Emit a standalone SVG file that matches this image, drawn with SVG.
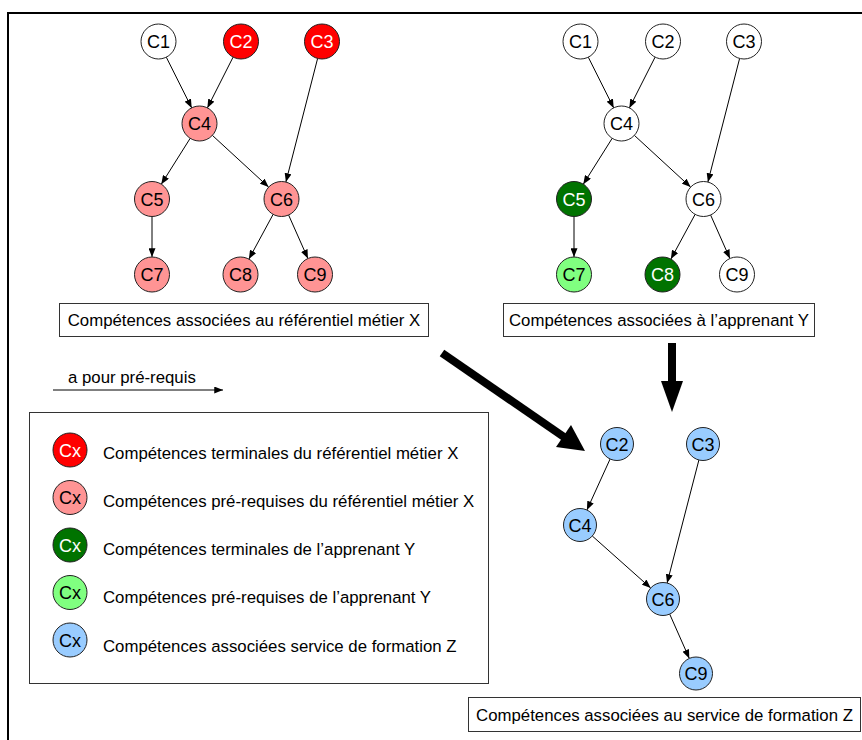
<svg xmlns="http://www.w3.org/2000/svg" width="862" height="740" viewBox="0 0 862 740">
<defs>
<style>
text{font-family:"Liberation Sans",Arial,sans-serif;fill:#000}
.n{font-size:18px;text-anchor:middle}
.w{fill:#fff}
.lbl{font-size:16.8px}
.c{stroke:#222;stroke-width:1}
.white{fill:#fff}
.red{fill:#ff0000}
.pink{fill:#ff9494}
.dg{fill:#007300}
.lg{fill:#80ff80}
.blue{fill:#99ccff}
.e{stroke:#000;stroke-width:1;fill:none;marker-end:url(#ah)}
.box{fill:#fff;stroke:#333;stroke-width:1}
.big{stroke:#000;stroke-width:8;fill:none}
</style>
<marker id="ah" viewBox="0 0 10 8" refX="10" refY="4" markerWidth="9" markerHeight="7" markerUnits="userSpaceOnUse" orient="auto">
<path d="M0,0 L10,4 L0,8 z" fill="#000"/>
</marker>
</defs>
<rect x="0" y="0" width="862" height="740" fill="#fff"/>
<rect id="frame" x="8" y="13" width="900" height="800" fill="none" stroke="#000" stroke-width="2"/>

<!-- Left graph -->
<g id="graphX">
<g id="connectorsX">
<line class="e" x1="166.3" y1="57.2" x2="191.7" y2="107.9"/>
<line class="e" x1="233.1" y1="57.1" x2="207.4" y2="107.9"/>
<line class="e" x1="317.6" y1="58.5" x2="285.9" y2="182.0"/>
<line class="e" x1="190.2" y1="138.3" x2="161.3" y2="184.2"/>
<line class="e" x1="212.4" y1="135.4" x2="268.6" y2="187.1"/>
<line class="e" x1="152" y1="216.5" x2="152" y2="257"/>
<line class="e" x1="273.1" y1="214.4" x2="248.9" y2="259.1"/>
<line class="e" x1="288.6" y1="215.0" x2="307.9" y2="258.5"/>
</g>
<g id="X-C1"><circle class="c white" cx="158.5" cy="41.5" r="17.5"/><text class="n" x="158.5" y="48">C1</text></g>
<g id="X-C2"><circle class="c red" cx="241" cy="41.5" r="17.5"/><text class="n w" x="241" y="48">C2</text></g>
<g id="X-C3"><circle class="c red" cx="322" cy="41.5" r="17.5"/><text class="n w" x="322" y="48">C3</text></g>
<g id="X-C4"><circle class="c pink" cx="199.5" cy="123.5" r="17.5"/><text class="n" x="199.5" y="130">C4</text></g>
<g id="X-C5"><circle class="c pink" cx="152" cy="199" r="17.5"/><text class="n" x="152" y="205.5">C5</text></g>
<g id="X-C6"><circle class="c pink" cx="281.5" cy="199" r="17.5"/><text class="n" x="281.5" y="205.5">C6</text></g>
<g id="X-C7"><circle class="c pink" cx="152" cy="274.5" r="17.5"/><text class="n" x="152" y="281">C7</text></g>
<g id="X-C8"><circle class="c pink" cx="240.5" cy="274.5" r="17.5"/><text class="n" x="240.5" y="281">C8</text></g>
<g id="X-C9"><circle class="c pink" cx="315" cy="274.5" r="17.5"/><text class="n" x="315" y="281">C9</text></g>
</g>

<!-- Right graph -->
<g id="graphY" transform="translate(422,0)">
<g id="connectorsY">
<line class="e" x1="166.3" y1="57.2" x2="191.7" y2="107.9"/>
<line class="e" x1="233.1" y1="57.1" x2="207.4" y2="107.9"/>
<line class="e" x1="317.6" y1="58.5" x2="285.9" y2="182.0"/>
<line class="e" x1="190.2" y1="138.3" x2="161.3" y2="184.2"/>
<line class="e" x1="212.4" y1="135.4" x2="268.6" y2="187.1"/>
<line class="e" x1="152" y1="216.5" x2="152" y2="257"/>
<line class="e" x1="273.1" y1="214.4" x2="248.9" y2="259.1"/>
<line class="e" x1="288.6" y1="215.0" x2="307.9" y2="258.5"/>
</g>
<g id="Y-C1"><circle class="c white" cx="158.5" cy="41.5" r="17.5"/><text class="n" x="158.5" y="48">C1</text></g>
<g id="Y-C2"><circle class="c white" cx="241" cy="41.5" r="17.5"/><text class="n" x="241" y="48">C2</text></g>
<g id="Y-C3"><circle class="c white" cx="322" cy="41.5" r="17.5"/><text class="n" x="322" y="48">C3</text></g>
<g id="Y-C4"><circle class="c white" cx="199.5" cy="123.5" r="17.5"/><text class="n" x="199.5" y="130">C4</text></g>
<g id="Y-C5"><circle class="c dg" cx="152" cy="199" r="17.5"/><text class="n w" x="152" y="205.5">C5</text></g>
<g id="Y-C6"><circle class="c white" cx="281.5" cy="199" r="17.5"/><text class="n" x="281.5" y="205.5">C6</text></g>
<g id="Y-C7"><circle class="c lg" cx="152" cy="274.5" r="17.5"/><text class="n" x="152" y="281">C7</text></g>
<g id="Y-C8"><circle class="c dg" cx="240.5" cy="274.5" r="17.5"/><text class="n w" x="240.5" y="281">C8</text></g>
<g id="Y-C9"><circle class="c white" cx="315" cy="274.5" r="17.5"/><text class="n" x="315" y="281">C9</text></g>
</g>

<!-- Bottom graph -->
<g id="graphZ">
<g id="connectorsZ">
<line class="e" x1="610.1" y1="459.0" x2="586.9" y2="510.0"/>
<line class="e" x1="698.9" y1="460.0" x2="667.1" y2="583.0"/>
<line class="e" x1="592.3" y1="536.0" x2="650.7" y2="588.0"/>
<line class="e" x1="669.7" y1="614.1" x2="689.3" y2="658.4"/>
</g>
<g id="Z-C2"><circle class="c blue" cx="617" cy="444" r="16.5"/><text class="n" x="617" y="450.5">C2</text></g>
<g id="Z-C3"><circle class="c blue" cx="703" cy="444" r="16.5"/><text class="n" x="703" y="450.5">C3</text></g>
<g id="Z-C4"><circle class="c blue" cx="580" cy="525" r="16.5"/><text class="n" x="580" y="531.5">C4</text></g>
<g id="Z-C6"><circle class="c blue" cx="663" cy="599" r="16.5"/><text class="n" x="663" y="605.5">C6</text></g>
<g id="Z-C9"><circle class="c blue" cx="696" cy="673.5" r="16.5"/><text class="n" x="696" y="680">C9</text></g>
</g>

<!-- Captions -->
<g id="captionX"><rect class="box" x="59.5" y="303.5" width="369" height="33"/><text class="lbl" x="244" y="326" text-anchor="middle">Compétences associées au référentiel métier X</text></g>
<g id="captionY"><rect class="box" x="503.5" y="303.5" width="311" height="33"/><text class="lbl" x="659" y="326" text-anchor="middle">Compétences associées à l’apprenant Y</text></g>
<g id="captionZ"><rect class="box" x="468.5" y="697.5" width="392" height="34"/><text class="lbl" x="664.5" y="720.5" text-anchor="middle">Compétences associées au service de formation Z</text></g>

<!-- Big arrows -->
<g id="bigArrows">
<line class="big" x1="442" y1="353" x2="564" y2="437"/>
<polygon points="585,451 556,447 571,425" fill="#000"/>
<line class="big" x1="672" y1="343" x2="672" y2="384"/>
<polygon points="661,381 683,381 672,412" fill="#000"/>
</g>

<!-- Relation legend -->
<g id="relLegend">
<text class="lbl" x="68" y="383">a pour pré-requis</text>
<line class="e" x1="53" y1="390" x2="223" y2="390"/>
</g>

<!-- Legend -->
<g id="legend">
<rect class="box" x="29.5" y="412.5" width="459" height="271"/>
<g id="lg1"><circle class="c red" cx="70" cy="450" r="17"/><text class="n w" x="70" y="456.5">Cx</text><text class="lbl" x="103" y="459">Compétences terminales du référentiel métier X</text></g>
<g id="lg2"><circle class="c pink" cx="70" cy="497.5" r="17"/><text class="n" x="70" y="504">Cx</text><text class="lbl" x="103" y="507">Compétences pré-requises du référentiel métier X</text></g>
<g id="lg3"><circle class="c dg" cx="70" cy="545" r="17"/><text class="n w" x="70" y="551.5">Cx</text><text class="lbl" x="103" y="555">Compétences terminales de l’apprenant Y</text></g>
<g id="lg4"><circle class="c lg" cx="70" cy="592.5" r="17"/><text class="n" x="70" y="599">Cx</text><text class="lbl" x="103" y="603">Compétences pré-requises de l’apprenant Y</text></g>
<g id="lg5"><circle class="c blue" cx="70" cy="640" r="17"/><text class="n" x="70" y="646.5">Cx</text><text class="lbl" x="103" y="652">Compétences associées service de formation Z</text></g>
</g>
</svg>
